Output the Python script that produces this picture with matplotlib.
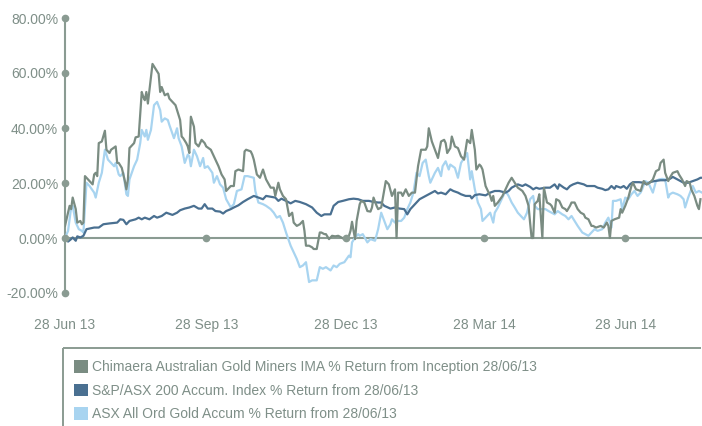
import pandas as pd
import matplotlib
matplotlib.use("Agg")
import matplotlib.pyplot as plt
import matplotlib.dates as mdates
from matplotlib.patches import Patch
from matplotlib.lines import Line2D
from matplotlib.ticker import FuncFormatter

plt.rcParams['font.family'] = ['Liberation Sans', 'DejaVu Sans']

# calendar days since inception (28/06/13) and % return
chim_day = [0, 3, 4, 5, 7, 8, 10, 11, 12, 13, 16, 18, 19, 20, 21, 22, 24, 26, 27, 29, 30, 33, 34, 35, 37,
            39, 40, 41, 42, 45, 46, 48, 50, 51, 52, 53, 54, 57, 59, 61, 62, 63, 65, 67, 68, 70, 72, 73, 75,
            76, 77, 79, 80, 81, 82, 84, 85, 87, 89, 91, 92, 95, 97, 98, 100, 102, 104, 105, 106, 108, 110,
            111, 113, 116, 117, 118, 121, 122, 123, 125, 127, 129, 131, 134, 136, 137, 139, 140, 142, 144,
            146, 148, 149, 151, 153, 155, 156, 157, 159, 161, 162, 164, 166, 167, 169, 170, 172, 174, 176,
            178, 180, 182, 185, 186, 187, 188, 189, 190, 192, 193, 195, 197, 199, 200, 201, 203, 204, 206,
            209, 211, 213, 214, 215, 216, 217, 219, 220, 222, 224, 226, 228, 230, 232, 235, 236, 237, 239,
            241, 243, 245, 247, 248, 249, 251, 252, 254, 256, 258, 260, 261, 262, 264, 265, 267, 268, 270,
            271, 272, 274, 275, 277, 278, 279, 280, 282, 285, 287, 289, 291, 293, 295, 298, 300, 302, 303,
            304, 305, 306, 308, 309, 310, 311, 312, 314, 316, 317, 319, 320, 322, 324, 326, 327, 329, 330,
            332, 334, 336, 338, 339, 341, 343, 344, 346, 349, 351, 353, 354, 355, 356, 358, 361, 362, 363,
            365, 367, 369, 370, 372, 375, 377, 379, 381, 383, 385, 387, 388, 390, 391, 393, 394, 396, 399,
            400, 402, 404, 405, 407, 408, 410, 412, 413, 414]
chim_ret = [4.4, 11.7, 10.5, 14.7, 10.5, 5.6, 6.2, 5.0, 5.6, 22.5, 20.7, 19.5, 23.1, 23.7, 22.5, 34.5, 35.1,
            39.0, 32.1, 30.9, 32.1, 33.3, 27.3, 27.3, 25.5, 20.7, 17.7, 21.3, 32.7, 34.5, 36.6, 36.9, 53.1,
            51.3, 50.1, 53.1, 48.9, 63.3, 61.5, 59.7, 53.1, 54.9, 51.9, 52.5, 50.7, 49.5, 48.3, 46.5, 42.9,
            36.9, 36.3, 34.5, 33.3, 30.9, 44.1, 40.5, 34.5, 33.3, 35.7, 34.5, 33.3, 32.1, 29.7, 28.5, 26.1,
            23.1, 21.3, 17.1, 17.7, 18.9, 18.9, 24.3, 24.9, 24.3, 31.5, 32.1, 31.5, 30.3, 28.5, 23.1, 21.9,
            24.9, 21.3, 18.3, 18.3, 15.3, 20.1, 17.7, 15.3, 14.1, 8.0, 9.2, 5.6, 4.4, 5.0, 6.2, 2.6, -2.8,
            -2.8, -3.4, -4.0, -4.0, 2.0, 2.0, 1.4, 1.4, -0.4, 0.8, 0.6, 0.8, 0.2, -0.4, 0.8, 2.6, 5.9, 2.6,
            -0.4, 6.2, 12.3, 13.5, 12.9, 9.8, 9.6, 11.1, 14.7, 11.7, 10.5, 11.1, 20.7, 19.5, 15.3, 16.5,
            17.7, 0.0, 16.5, 16.5, 15.3, 17.7, 15.3, 16.5, 16.5, 26.1, 32.1, 32.1, 33.3, 39.9, 35.1, 32.1,
            29.1, 35.1, 35.7, 34.5, 30.9, 32.7, 36.9, 33.3, 32.7, 29.7, 28.5, 32.1, 35.7, 34.5, 39.3, 32.1,
            24.9, 26.7, 26.1, 24.9, 18.9, 17.7, 15.3, 13.5, 15.3, 11.7, 12.9, 15.3, 17.7, 20.1, 21.9, 20.1,
            18.3, 17.1, 15.3, 11.7, 5.6, 0.0, 0.0, 12.3, 13.5, 15.9, 8.0, 0.0, 18.3, 12.9, 12.3, 11.7, 9.2,
            14.1, 13.5, 11.1, 10.5, 9.8, 11.7, 12.9, 12.9, 10.5, 9.2, 8.6, 7.4, 6.8, 4.4, 4.4, 3.8, 4.4,
            3.8, 5.6, 4.4, 0.0, 6.2, 6.8, 7.4, 10.5, 9.2, 11.7, 14.7, 18.9, 20.1, 17.7, 17.1, 20.7, 19.5,
            20.1, 21.3, 24.3, 24.9, 27.3, 28.5, 23.7, 20.7, 21.9, 23.7, 24.3, 23.1, 21.3, 18.9, 20.7, 20.1,
            17.7, 15.3, 11.7, 10.5, 14.1]

asx200_day = [0, 2, 4, 5, 7, 8, 10, 12, 14, 19, 22, 25, 29, 34, 36, 38, 40, 42, 46, 48, 50, 52, 55, 58, 60,
              63, 66, 67, 70, 73, 75, 78, 81, 84, 87, 89, 91, 93, 96, 98, 101, 103, 105, 108, 110, 113, 116,
              119, 123, 126, 129, 131, 135, 137, 139, 141, 144, 147, 150, 153, 157, 161, 164, 167, 169, 173,
              175, 178, 181, 185, 188, 191, 194, 198, 201, 204, 206, 208, 212, 215, 218, 221, 223, 225, 228,
              231, 235, 238, 241, 243, 245, 248, 251, 253, 256, 258, 261, 264, 265, 267, 270, 274, 277, 280,
              283, 287, 289, 291, 293, 295, 298, 300, 303, 305, 307, 309, 313, 316, 319, 321, 322, 325, 327,
              329, 331, 334, 338, 340, 343, 345, 347, 350, 352, 354, 356, 358, 359, 362, 364, 366, 368, 370,
              374, 377, 379, 381, 384, 388, 391, 394, 396, 399, 401, 403, 406, 409, 412, 414, 415]
asx200_ret = [0.0, -1.3, -0.4, 0.2, -1.0, 0.6, 0.2, 0.8, 3.2, 3.8, 3.8, 5.0, 5.3, 5.6, 6.8, 6.6, 5.0, 6.2,
              6.8, 7.4, 6.8, 7.4, 6.8, 8.0, 7.4, 8.0, 9.2, 9.0, 8.4, 9.2, 10.1, 10.7, 11.1, 11.7, 10.7, 10.7,
              12.3, 10.7, 10.7, 9.8, 9.6, 8.9, 9.8, 10.5, 11.1, 11.9, 13.1, 14.1, 15.3, 14.7, 14.1, 15.3,
              14.9, 14.7, 13.5, 14.3, 13.5, 12.6, 13.5, 13.1, 12.3, 11.1, 9.2, 8.0, 8.6, 8.6, 11.7, 13.1,
              13.5, 14.1, 14.3, 14.1, 13.5, 13.5, 13.1, 12.9, 12.9, 11.7, 10.7, 11.1, 10.7, 10.5, 8.6, 10.5,
              12.3, 14.1, 15.3, 16.2, 17.1, 16.2, 16.5, 15.9, 17.7, 17.1, 16.5, 15.9, 15.3, 15.3, 14.4, 15.6,
              15.9, 15.5, 16.5, 17.1, 17.1, 16.5, 17.1, 18.3, 18.9, 19.5, 18.9, 19.5, 18.6, 17.7, 18.3, 17.9,
              18.3, 18.3, 19.5, 17.9, 19.5, 18.3, 17.7, 18.9, 19.5, 20.1, 19.5, 18.9, 18.9, 18.9, 18.3, 17.9,
              17.4, 17.7, 18.9, 17.9, 18.9, 18.3, 18.9, 17.9, 19.5, 20.3, 20.3, 20.1, 19.5, 20.3, 20.7, 21.0,
              21.0, 21.5, 22.2, 21.3, 20.7, 20.1, 20.1, 20.7, 21.3, 21.9, 21.9]

gold_day = [0, 2, 4, 5, 7, 9, 11, 12, 14, 16, 19, 20, 22, 24, 26, 28, 32, 33, 35, 36, 38, 40, 41, 42, 45,
            47, 49, 50, 52, 53, 54, 56, 58, 60, 62, 63, 65, 67, 68, 71, 73, 74, 76, 78, 80, 81, 82, 84, 86,
            88, 90, 91, 93, 96, 97, 99, 101, 103, 105, 108, 110, 112, 115, 117, 119, 123, 124, 126, 129,
            131, 134, 136, 138, 140, 142, 144, 147, 149, 151, 153, 155, 157, 159, 161, 164, 166, 168, 170,
            173, 175, 177, 179, 182, 185, 186, 187, 189, 191, 192, 194, 197, 199, 202, 204, 206, 208, 210,
            212, 213, 215, 217, 219, 221, 223, 225, 227, 229, 231, 233, 235, 237, 238, 241, 243, 245, 246,
            248, 250, 251, 254, 256, 258, 260, 261, 262, 264, 265, 267, 269, 271, 272, 275, 277, 279, 280,
            282, 285, 287, 289, 291, 293, 295, 299, 301, 303, 305, 306, 308, 311, 313, 315, 317, 319, 321,
            324, 326, 328, 330, 332, 334, 337, 339, 341, 343, 345, 347, 350, 352, 354, 356, 357, 359, 362,
            363, 365, 367, 369, 371, 373, 375, 376, 378, 380, 381, 383, 385, 387, 389, 391, 393, 394, 396,
            399, 401, 403, 404, 406, 408, 409, 411, 413, 415]
gold_ret = [0.0, 2.6, 11.1, 11.7, 5.6, 3.2, 2.6, 2.0, 20.1, 18.9, 16.5, 14.7, 20.1, 23.7, 32.1, 28.5, 26.1,
            27.3, 23.1, 22.5, 23.7, 15.9, 15.3, 21.3, 26.1, 28.5, 34.5, 39.3, 36.9, 39.3, 35.7, 39.3, 48.3,
            49.5, 46.5, 42.3, 43.5, 42.9, 41.1, 36.3, 39.9, 36.3, 33.3, 27.3, 30.3, 29.7, 26.1, 32.1, 29.7,
            26.1, 29.1, 25.5, 26.1, 23.7, 20.1, 22.5, 19.5, 18.3, 14.1, 11.1, 12.3, 17.1, 17.7, 22.5, 22.5,
            21.9, 17.1, 12.9, 12.3, 11.7, 10.5, 9.2, 7.4, 8.0, 5.6, 2.0, -2.8, -5.2, -7.6, -10.6, -10.0,
            -8.8, -16.0, -15.4, -15.4, -10.6, -11.2, -10.6, -11.8, -10.0, -10.6, -9.4, -8.8, -6.4, -7.0,
            -1.6, 0.2, 1.4, 0.8, 1.4, -1.6, -0.4, -1.0, 3.2, 9.2, 6.2, 3.2, 5.0, 6.8, 5.6, 6.2, 6.2, 7.4,
            10.5, 12.9, 16.5, 23.7, 22.5, 27.3, 28.5, 22.5, 20.1, 23.7, 25.5, 22.5, 26.1, 27.9, 24.9, 26.7,
            25.5, 21.9, 27.3, 29.1, 29.7, 30.9, 21.3, 24.3, 17.7, 12.9, 10.5, 6.2, 8.0, 9.2, 5.6, 9.2, 11.1,
            14.7, 17.1, 15.3, 12.9, 11.1, 9.2, 6.8, 9.2, 14.1, 15.3, 11.7, 10.5, 10.5, 10.5, 9.8, 9.2, 8.6,
            9.8, 8.6, 8.0, 6.8, 8.0, 6.2, 4.4, 2.0, 1.4, 0.8, 2.0, 3.2, 2.6, 3.2, 5.6, 7.4, 3.8, 13.5, 13.5,
            14.1, 10.5, 14.7, 14.1, 15.9, 17.1, 15.3, 16.5, 17.7, 20.7, 20.1, 18.9, 16.5, 20.7, 21.3, 21.5,
            21.3, 14.7, 15.9, 16.5, 15.9, 15.3, 14.1, 11.1, 14.7, 17.7, 18.9, 16.5, 17.1, 16.5]

labels = ["Chimaera Australian Gold Miners IMA % Return from Inception 28/06/13",
          "S&P/ASX 200 Accum. Index % Return from 28/06/13",
          "ASX All Ord Gold Accum % Return from 28/06/13"]
y_ticks = [-20, 0, 20, 40, 60, 80]
x_tick_dates = ["2013-06-28", "2013-09-28", "2013-12-28", "2014-03-28", "2014-06-28"]

start = pd.Timestamp("2013-06-28")
end = start + pd.Timedelta(days=415)


def to_dates(days):
    return start + pd.to_timedelta(days, unit="D")


c_chim = "#7a8c82"
c_asx = "#4a7091"
c_gold = "#a8d4f0"
c_axis = "#8a9b92"
c_text = "#7f8f88"

fig = plt.figure(figsize=(7.02, 4.26), dpi=100)
ax = fig.add_axes([65 / 702, 1 - 293 / 426, 1 - 65 / 702, 275 / 426])

ax.plot(to_dates(gold_day), gold_ret, color=c_gold, lw=1.6, zorder=3)
ax.plot(to_dates(asx200_day), asx200_ret, color=c_asx, lw=1.6, zorder=4)
ax.plot(to_dates(chim_day), chim_ret, color=c_chim, lw=1.6, zorder=5)

ax.set_xlim(start, end)
ax.set_ylim(-20, 80)

# axis lines with dotted tick markers
ax.axhline(0, color=c_axis, lw=1.5, zorder=2)
ax.plot(pd.to_datetime(x_tick_dates[1:]), [0] * 4, 'o', color=c_axis, ms=4.5, zorder=6, clip_on=False)
ax.plot([start] * len(y_ticks), y_ticks, 'o', color=c_axis, ms=4.5, zorder=6, clip_on=False)

for s in ['top', 'right', 'bottom']:
    ax.spines[s].set_visible(False)
ax.spines['left'].set_color(c_axis)
ax.spines['left'].set_linewidth(1.5)

ax.set_yticks(y_ticks)
ax.yaxis.set_major_formatter(FuncFormatter(lambda v, p: f"{v:.2f}%"))
ax.set_xticks(pd.to_datetime(x_tick_dates))
ax.xaxis.set_major_formatter(mdates.DateFormatter("%d %b %y"))
ax.tick_params(axis='y', length=0, pad=5, labelsize=10, labelcolor=c_text)
ax.tick_params(axis='x', length=0, pad=18, labelsize=10, labelcolor=c_text)

# legend box: top edge and left edge only
box_l, box_t = 63 / 702, 1 - 348 / 426
fig.add_artist(Line2D([box_l, 0.999], [box_t, box_t], transform=fig.transFigure,
                      color=c_axis, lw=1.4, solid_capstyle='butt'))
fig.add_artist(Line2D([box_l, box_l], [box_t, 0.0], transform=fig.transFigure,
                      color=c_axis, lw=1.4, solid_capstyle='butt'))
handles = [Patch(facecolor=c) for c in (c_chim, c_asx, c_gold)]
leg = fig.legend(handles, labels, loc='upper left', bbox_to_anchor=(70 / 702, 1 - 356 / 426),
                 borderaxespad=0, fontsize=10, handlelength=1.0, handleheight=1.05,
                 handletextpad=0.3, labelspacing=0.66, borderpad=0.3, frameon=False)
for t in leg.get_texts():
    t.set_color(c_text)

fig.savefig("out.png", dpi=100)
